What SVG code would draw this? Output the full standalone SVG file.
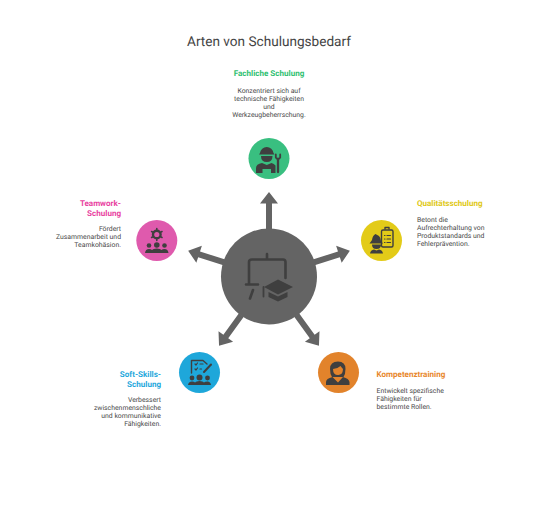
<svg xmlns="http://www.w3.org/2000/svg" width="538" height="505" viewBox="0 0 538 505">
<defs>
<style>
text{font-family:Roboto,"Liberation Sans",sans-serif;text-rendering:geometricPrecision}
.t{font-size:13.6px;fill:#444}
.h{font-size:8.05px;font-weight:700}
.b{font-size:6.85px;fill:#484848}
.m{text-anchor:middle}.e{text-anchor:end}
.i{fill:#3f3f3f}
.l{fill:none;stroke:#3f3f3f;stroke-linecap:round;stroke-linejoin:round}
</style>
<path id="arrow" d="M-3 -47V-73.500H-9L0 -85L9 -73.500H3V-47Z" fill="#646464"/>
</defs>
<rect width="538" height="505" fill="#fff"/>
<text class="t m" x="269" y="46">Arten von Schulungsbedarf</text>
<g id="connectors" transform="translate(269 277)">
<use href="#arrow"/><use href="#arrow" transform="rotate(72)"/><use href="#arrow" transform="rotate(144)"/><use href="#arrow" transform="rotate(216)"/><use href="#arrow" transform="rotate(288)"/>
</g>
<g id="center">
<circle cx="269" cy="276.500" r="48" fill="#646464"/>
<path class="l" stroke="#444" stroke-width="2.600" d="M267 254V259M249 283V262Q249 259.500 252 259.500H283Q285.500 259.500 285.500 262V278M246 284.500H258M253 290L250 298.500"/>
<path class="i" d="M278 279.500L293 287L278 294.500L264 287Z"/>
<path class="i" d="M268.500 292L278 296.500L287.500 292V297L278 301.500L268.500 297Z"/>
<path class="l" stroke-width="1.800" d="M263.500 287V296.500"/>
</g>
<g id="fachlich">
<text class="h m" x="269" y="76" fill="#2fbf71">Fachliche Schulung</text>
<text class="b m" x="269" y="92.500">Konzentriert sich auf</text><text class="b m" x="269" y="100.500">technische Fähigkeiten</text><text class="b m" x="269" y="108.500">und</text><text class="b m" x="269" y="116.500">Werkzeugbeherrschung.</text>
<circle cx="269" cy="158.500" r="20.500" fill="#39bf80"/>
<path class="i" d="M260 153A6.800 6.800 0 0 1 273.500 153L274.500 154.500H259Z"/>
<path class="i" d="M261 156H272.500Q272.500 162 266.800 162Q261 162 261 156Z"/>
<path class="i" d="M256 173V168Q256 164 262 163L266.800 165L271.500 163Q274 163.500 275.500 165.500V173H271V169H262.500V173Z"/>
<path class="l" stroke-width="2.300" d="M278 172V159"/>
<path class="l" stroke-width="1.800" d="M275.800 154.500V157.500L278 159.500L280.200 157.500V154.500"/>
</g>
<g id="qualitaet">
<text class="h" x="417" y="206" fill="#e0c816">Qualitätsschulung</text>
<text class="b" x="417" y="221.500">Betont die</text><text class="b" x="417" y="229.500">Aufrechterhaltung von</text><text class="b" x="417" y="237.500">Produktstandards und</text><text class="b" x="417" y="245.500">Fehlerprävention.</text>
<circle cx="381.500" cy="240.500" r="20.500" fill="#e3cb18"/>
<rect class="l" stroke-width="1.400" x="381.500" y="230" width="11.500" height="17" rx="1.500"/>
<path class="l" stroke-width="1.400" d="M385 229V227.500H389V229"/>
<path class="l" stroke-width="1.200" d="M384.500 235.500H385M387 235.500H390.500M384.500 239H385M387 239H390.500M384.500 242.500H385M387 242.500H390.500"/>
<path class="i" d="M372 240Q372.500 235.500 375.500 234L379 236Q381 238 381 241L383 243.500H369.500Z"/>
<path class="i" d="M372 244.500H381Q381 249 376.500 249Q372 249 372 244.500Z"/>
<path class="i" d="M370 253.500Q370.500 250 374 249.500L376.500 250.500L379 249.500Q382.500 250 383 253.500Z"/>
</g>
<g id="kompetenz">
<text class="h" x="376.500" y="377" fill="#e8862a">Kompetenztraining</text>
<text class="b" x="376.500" y="392.500">Entwickelt spezifische</text><text class="b" x="376.500" y="400.500">Fähigkeiten für</text><text class="b" x="376.500" y="408.500">bestimmte Rollen.</text>
<circle cx="338.500" cy="372.500" r="20.500" fill="#e2832b"/>
<path class="i" d="M330 369Q330 361.500 338 361.500Q345.500 361.500 345.500 369Q345.500 374 343.500 377H332Q330 374 330 369Z"/>
<path d="M333 369Q338 368.500 340.500 366Q342 368 343 369Q343 375 338 375Q333 375 333 369Z" fill="#e2832b"/>
<path class="i" d="M326 385V382Q326 378.500 332.500 377L338 382.500L343 377Q349 378.500 349.500 382V385Z"/>
<path class="l" stroke-width="1" d="M343.500 371Q344 375 339 375.500"/>
</g>
<g id="softskills">
<text class="h e" x="161" y="377" fill="#1fa8dc">Soft-Skills-</text><text class="h e" x="161" y="387" fill="#1fa8dc">Schulung</text>
<text class="b e" x="161" y="402">Verbessert</text><text class="b e" x="161" y="410">zwischenmenschliche</text><text class="b e" x="161" y="418">und kommunikative</text><text class="b e" x="161" y="426">Fähigkeiten.</text>
<circle cx="199.500" cy="372.500" r="20.500" fill="#1ea7da"/>
<path class="l" stroke-width="1.400" d="M191.500 373V360.500H203L207 364"/>
<path class="l" stroke-width="1.200" d="M195 364L196 365L197.500 363M200 364H203M195 369L196 370L197.500 368M200 369H201.500"/>
<path class="l" stroke-width="2" d="M204 372L211 364.500"/>
<circle class="i" cx="199.500" cy="377.500" r="3"/><circle class="i" cx="192" cy="378" r="2.400"/><circle class="i" cx="207.500" cy="378" r="2.400"/>
<path class="i" d="M188 385Q188.500 381.500 192 381.500Q194 381.500 195 382.500Q196 381 199.500 381Q203 381 204 382.500Q205 381.500 207.500 381.500Q210.500 381.500 211 385Z"/>
</g>
<g id="teamwork">
<text class="h e" x="121" y="206" fill="#e8429f">Teamwork-</text><text class="h e" x="121" y="216" fill="#e8429f">Schulung</text>
<text class="b e" x="121" y="231">Fördert</text><text class="b e" x="121" y="239">Zusammenarbeit und</text><text class="b e" x="121" y="247">Teamkohäsion.</text>
<circle cx="156.800" cy="240.500" r="20.500" fill="#df5aad"/>
<circle class="l" stroke-width="2.400" cx="156.800" cy="234.500" r="3.800"/>
<path class="l" stroke-width="1.600" d="M156.800 228.500V229.500M162 231.500L161.100 232M162 237.500L161.100 237M156.800 240.500V239.500M151.600 237.500L152.500 237M151.600 231.500L152.500 232"/>
<circle class="i" cx="156.800" cy="245" r="2.800"/><circle class="i" cx="149" cy="245.500" r="2.300"/><circle class="i" cx="164.500" cy="245.500" r="2.300"/>
<path class="i" d="M145 253Q145.500 249 149 249Q151 249 152 250Q153 248.500 156.800 248.500Q160.500 248.500 161.500 250Q162.500 249 164.500 249Q168 249 168.500 253Z"/>
</g>
</svg>
